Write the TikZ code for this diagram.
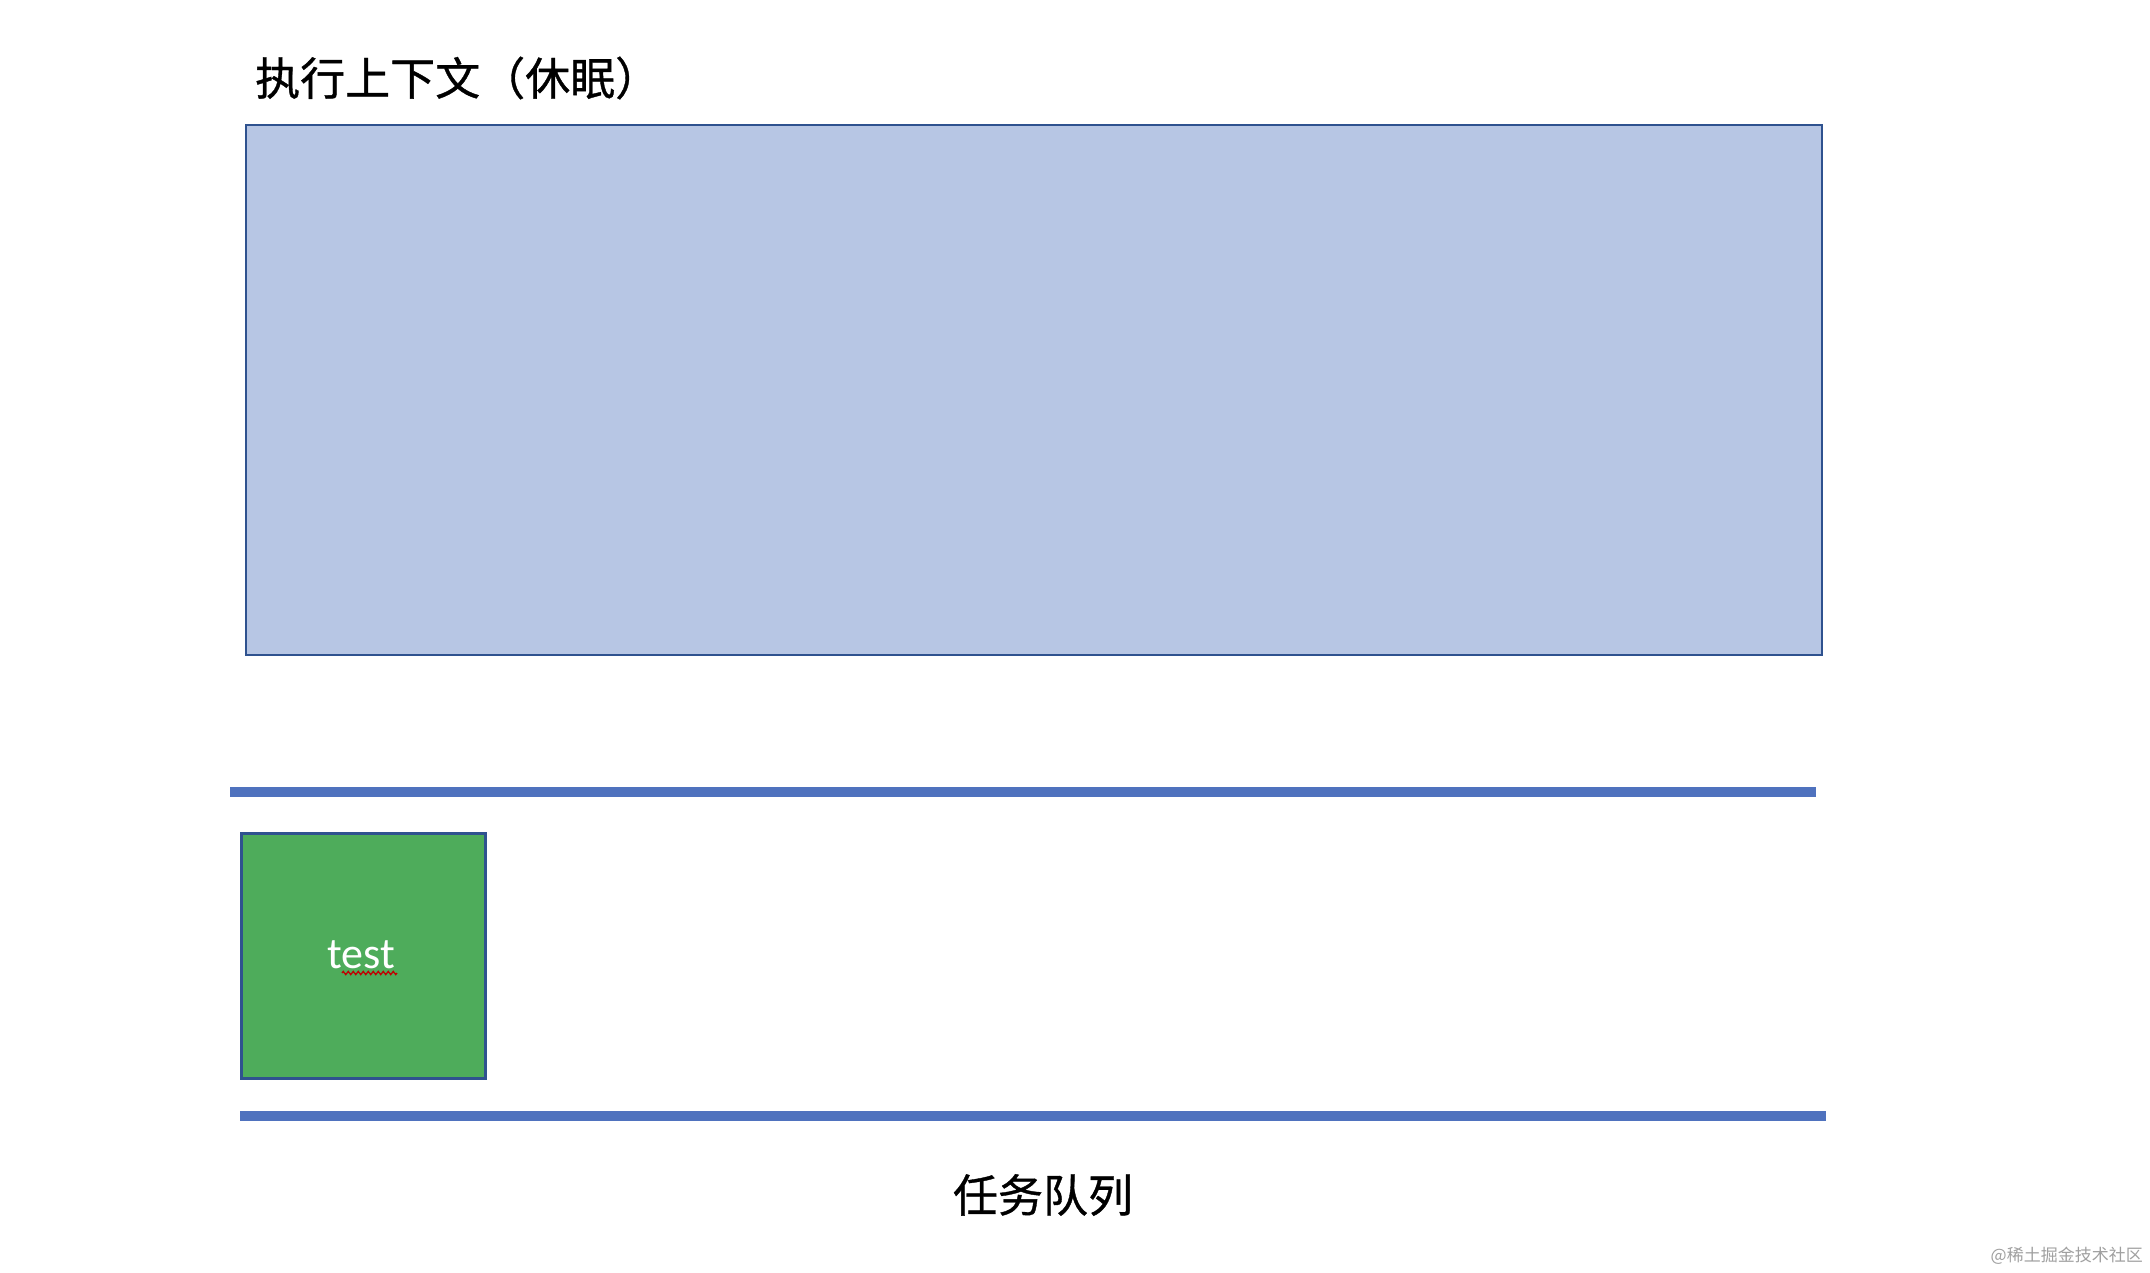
\documentclass[tikz,border=0pt]{standalone}
\usepackage{fontspec}
\newfontfamily\cjk[FakeBold=0.8]{Noto Sans CJK SC}
\newfontfamily\cjkwm{Noto Sans CJK SC}
\newfontfamily\calib{Carlito}
\usetikzlibrary{decorations.pathmorphing}
\definecolor{ctxfill}{HTML}{B7C6E4}
\definecolor{edgeblue}{HTML}{2F528F}
\definecolor{barblue}{HTML}{4F72BE}
\definecolor{taskgreen}{HTML}{4EAC5B}
\definecolor{wmgray}{HTML}{A0A0A0}
\tikzset{
  ctxbox/.style={draw=edgeblue, fill=ctxfill, line width=2.4pt, inner sep=0pt, anchor=north west},
  taskbox/.style={draw=edgeblue, fill=taskgreen, line width=2.6pt, inner sep=0pt, anchor=north west},
  tasklabel/.style={inner sep=0pt, text=white, font=\calib\fontsize{44}{50}\selectfont},
  bar/.style={draw=barblue, line width=10pt},
  label/.style={inner sep=0pt, font=\cjk\fontsize{45}{52}\selectfont},
  wm/.style={inner sep=0pt, text=wmgray, font=\cjkwm\fontsize{17}{20}\selectfont},
  spell/.style={draw=red!75!black, line width=1.3pt, decorate, decoration={zigzag, amplitude=1.6pt, segment length=5pt}}
}
\begin{document}
\begin{tikzpicture}[x=1pt,y=-1pt]
\useasboundingbox[fill=white] (0,0) rectangle (2150,1272);
\node[label, anchor=west] (title) at (255,78) {执行上下文（休眠）};
\node[ctxbox, minimum width=1576pt, minimum height=530pt] (ctx) at (245,124) {};
\coordinate (b1l) at (230,792);
\coordinate (b1r) at (1816,792);
\draw[bar] (b1l) -- (b1r);
\node[taskbox, minimum width=244pt, minimum height=245pt] (task) at (240,832) {};
\node[tasklabel] (tasktext) at (361,955) {test};
\coordinate (sp1) at (342,973);
\coordinate (sp2) at (397,973);
\draw[spell] (sp1) -- (sp2);
\coordinate (b2l) at (240,1116);
\coordinate (b2r) at (1826,1116);
\draw[bar] (b2l) -- (b2r);
\node[label] (queue) at (1043,1195) {任务队列};
\node[wm, anchor=east] (mark) at (2143,1256) {@稀土掘金技术社区};
\end{tikzpicture}
\end{document}
